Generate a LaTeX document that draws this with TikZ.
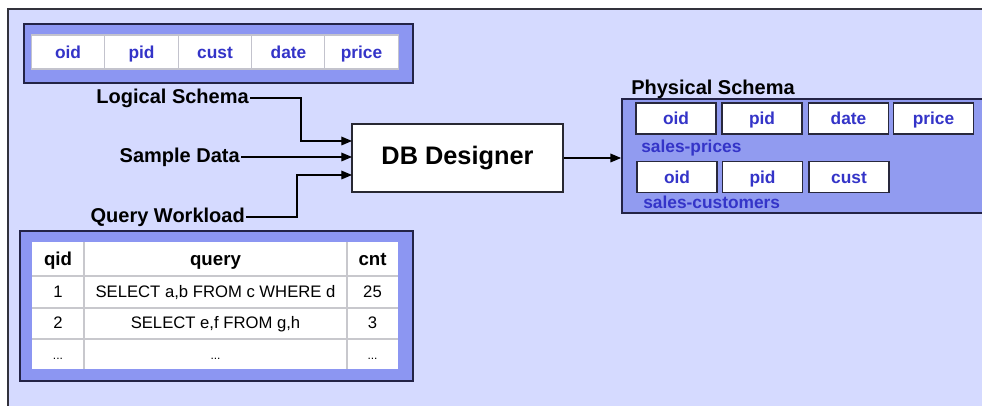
\documentclass[tikz,border=0pt]{standalone}
\usepackage{fontspec}
\setmainfont{Liberation Sans}
\usetikzlibrary{arrows.meta}

\begin{document}
\begin{tikzpicture}[x=0.75pt,y=0.75pt,yscale=-1,xscale=1,
  lcell/.style={draw={rgb, 255:red, 195; green, 195; blue, 205},fill=white,line width=0.8pt,minimum width=55pt,minimum height=25.5pt,inner sep=0pt,text height=10.5pt,text depth=0.8pt,font=\fontsize{13}{15}\selectfont\bfseries,text={rgb, 255:red, 52; green, 52; blue, 200}},
  pcell/.style={draw={rgb, 255:red, 40; green, 40; blue, 60},fill=white,line width=1.1pt,minimum width=60pt,minimum height=23.5pt,inner sep=0pt,text height=10.5pt,text depth=0.8pt,font=\fontsize{13}{15}\selectfont\bfseries,text={rgb, 255:red, 52; green, 52; blue, 200}},
  tname/.style={anchor=base west,inner sep=0.75pt,font=\fontsize{13}{15}\selectfont\bfseries,text={rgb, 255:red, 52; green, 52; blue, 200}},
  lbl/.style={inner sep=0.75pt,font=\fontsize{15}{17}\selectfont\bfseries},
  qhead/.style={inner sep=0.75pt,text height=10.5pt,text depth=1.5pt,font=\fontsize{14}{16}\selectfont\bfseries},
  qbody/.style={inner sep=0.75pt,text height=9.5pt,text depth=1.5pt,font=\fontsize{12.5}{14}\selectfont},
  conn/.style={line width=0.9pt,-{Triangle[length=8pt,width=6.5pt]}}
  ]
\useasboundingbox (0,0) rectangle (982,406);

%Shape: Background panel
\fill [color={rgb, 255:red, 213; green, 218; blue, 255 }] (8,9) rectangle (995,415);
\draw [color={rgb, 255:red, 50; green, 50; blue, 60 }, line width=1.3pt] (8,415) -- (8,9) -- (995,9);

%Shape: Logical schema box
\draw [color={rgb, 255:red, 35; green, 35; blue, 70 }, fill={rgb, 255:red, 140; green, 150; blue, 242 }, line width=1.3pt] (24,24) rectangle (413,83);
\node [lcell] (loid) at (68,52) {oid};
\node [lcell] (lpid) at (141.5,52) {pid};
\node [lcell] (lcust) at (215,52) {cust};
\node [lcell] (ldate) at (288.5,52) {date};
\node [lcell] (lprice) at (361.5,52) {price};

%Shape: Query workload box
\draw [color={rgb, 255:red, 35; green, 35; blue, 70 }, fill={rgb, 255:red, 140; green, 150; blue, 242 }, line width=1.3pt] (20,231) rectangle (413,381);
\fill [white] (32,242) rectangle (398,369);
\draw [color={rgb, 255:red, 200; green, 200; blue, 205 }, line width=0.9pt] (84,242) -- (84,369) (347,242) -- (347,369) (32,276) -- (398,276) (32,308) -- (398,308) (32,339) -- (398,339);

% Text Node
\node [qhead] (hqid) at (58,260) {qid};
\node [qhead] (hquery) at (215.5,260) {query};
\node [qhead] (hcnt) at (372.5,260) {cnt};
\node [qbody] (qid1) at (58,292) {1};
\node [qbody] (query1) at (215.5,292) {SELECT a,b FROM c WHERE d};
\node [qbody] (cnt1) at (372.5,292) {25};
\node [qbody] (qid2) at (58,323.5) {2};
\node [qbody] (query2) at (215.5,323.5) {SELECT e,f FROM g,h};
\node [qbody] (cnt2) at (372.5,323.5) {3};
\node [qbody, font=\fontsize{9}{10}\selectfont] (qid3) at (58,354) {...};
\node [qbody, font=\fontsize{9}{10}\selectfont] (query3) at (215.5,354) {...};
\node [qbody, font=\fontsize{9}{10}\selectfont] (cnt3) at (372.5,354) {...};

%Shape: DB Designer
\node [draw={rgb, 255:red, 40; green, 40; blue, 50 }, fill=white, line width=1.1pt, minimum width=158pt, minimum height=51pt, font=\fontsize{19}{21}\selectfont\bfseries] (db) at (457.5,158) {DB Designer};
\coordinate (in1) at (352,141);
\coordinate (in2) at (352,157);
\coordinate (in3) at (352,175);

% Text Node
\node [lbl, anchor=east] (logical) at (250,98) {Logical Schema};
\node [lbl, anchor=east] (sample) at (241,157) {Sample Data};
\node [lbl, anchor=east] (workload) at (246,217) {Query Workload};

%Straight Lines
\draw [conn] (logical.east) -- ++(51,0) |- (in1);
\draw [conn] (sample.east) -- (in2);
\draw [conn] (workload.east) -- ++(51,0) |- (in3);

%Shape: Physical schema box
\node [draw={rgb, 255:red, 35; green, 35; blue, 70 }, fill={rgb, 255:red, 145; green, 155; blue, 240 }, line width=1.3pt, minimum width=282pt, minimum height=85.5pt, inner sep=0pt] (phys) at (810,156) {};
\node [lbl, anchor=west] (physlbl) at (630,89) {Physical Schema};
\draw [conn] (db.east) -- (db.east -| phys.west);

\node [pcell] (poid) at (676,118.5) {oid};
\node [pcell] (ppid) at (762,118.5) {pid};
\node [pcell] (pdate) at (848.5,118.5) {date};
\node [pcell] (pprice) at (933.5,118.5) {price};
\node [tname] (prices) at (640,153) {sales-prices};

\node [pcell] (coid) at (677,177) {oid};
\node [pcell] (cpid) at (762.5,177) {pid};
\node [pcell] (ccust) at (849,177) {cust};
\node [tname] (customers) at (642,209) {sales-customers};

\end{tikzpicture}
\end{document}
